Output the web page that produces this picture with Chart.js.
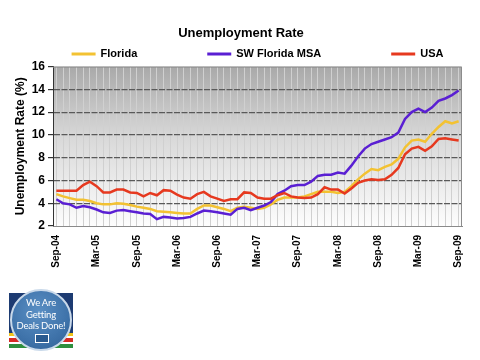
<!DOCTYPE html>
<html>
<head>
<meta charset="utf-8">
<script src="https://cdn.jsdelivr.net/npm/chart.js@4.4.0/dist/chart.umd.min.js"></script>
<style>
  html, body { margin: 0; padding: 0; background: #ffffff; }
  #wrap { position: relative; width: 480px; height: 360px; overflow: hidden; }
  #c { position: absolute; left: 0; top: 0; }
  #logo { position: absolute; left: 9px; top: 293px; width: 64px; height: 55px;
    background: linear-gradient(to bottom, #1d3b72 0px, #1d3b72 40px, #f0c419 40px, #f0c419 43px, #ffffff 43px, #ffffff 45px, #d62a24 45px, #d62a24 49px, #ffffff 49px, #ffffff 51px, #2e8f3e 51px, #2e8f3e 55px); }
  #badge { position: absolute; left: 10px; top: 289px; width: 58px; height: 58px; border-radius: 50%;
    border: 2px solid #c9d9ea;
    background: radial-gradient(circle at 45% 35%, #5a8fc4 0%, #3f73aa 60%, #2f5f95 100%);
    color: #ffffff; font-family: Lato, "Open Sans", sans-serif; font-size: 9.5px; line-height: 11.5px; letter-spacing: -0.2px; text-align: center; }
  #badge .t { position: absolute; left: -4px; right: -4px; top: 6px; white-space: nowrap; }
  #badge .ic { position: absolute; left: 23px; top: 43px; width: 12px; height: 7px; border: 1px solid #ffffff; background: #2a5a8f; }
</style>
</head>
<body>
<div id="wrap">
  <canvas id="c" width="480" height="360"></canvas>
  <div id="logo"></div>
  <div id="badge"><div class="t">We Are<br>Getting<br>Deals Done!</div><div class="ic"></div></div>
</div>
<script>
const categories = [
  'Sep-04','Oct-04','Nov-04','Dec-04',
  'Jan-05','Feb-05','Mar-05','Apr-05','May-05','Jun-05','Jul-05','Aug-05','Sep-05','Oct-05','Nov-05','Dec-05',
  'Jan-06','Feb-06','Mar-06','Apr-06','May-06','Jun-06','Jul-06','Aug-06','Sep-06','Oct-06','Nov-06','Dec-06',
  'Jan-07','Feb-07','Mar-07','Apr-07','May-07','Jun-07','Jul-07','Aug-07','Sep-07','Oct-07','Nov-07','Dec-07',
  'Jan-08','Feb-08','Mar-08','Apr-08','May-08','Jun-08','Jul-08','Aug-08','Sep-08','Oct-08','Nov-08','Dec-08',
  'Jan-09','Feb-09','Mar-09','Apr-09','May-09','Jun-09','Jul-09','Aug-09','Sep-09'
];
const floridaRate = [
  4.8, 4.6, 4.45, 4.3, 4.3, 4.2, 4.0, 3.9, 3.9, 4.0,
  3.95, 3.85, 3.7, 3.6, 3.5, 3.3, 3.25, 3.2, 3.15, 3.1,
  3.1, 3.5, 3.8, 3.8, 3.65, 3.5, 3.3, 3.6, 3.7, 3.6,
  3.5, 3.6, 3.9, 4.3, 4.5, 4.5, 4.5, 4.6, 4.8, 5.0,
  5.0, 5.0, 4.9, 5.0, 5.5, 6.1, 6.6, 7.0, 6.9, 7.2,
  7.4, 7.9, 8.9, 9.5, 9.6, 9.4, 10.1, 10.7, 11.2, 11.0,
  11.2
];
const swFloridaRate = [
  4.35, 4.0, 3.9, 3.6, 3.75, 3.65, 3.45, 3.2, 3.15, 3.35,
  3.4, 3.3, 3.2, 3.1, 3.05, 2.6, 2.8, 2.75, 2.65, 2.7,
  2.8, 3.1, 3.35, 3.3, 3.2, 3.1, 3.0, 3.5, 3.6, 3.4,
  3.6, 3.8, 4.1, 4.8, 5.1, 5.5, 5.6, 5.6, 5.9, 6.4,
  6.5, 6.5, 6.7, 6.6, 7.3, 8.1, 8.8, 9.2, 9.4, 9.6,
  9.8, 10.2, 11.4, 12.0, 12.3, 12.0, 12.4, 13.0, 13.2, 13.5,
  13.9
];
const usaRate = [
  5.1, 5.1, 5.1, 5.1, 5.6, 5.9, 5.5, 4.95, 4.95, 5.2,
  5.2, 4.95, 4.9, 4.6, 4.9, 4.7, 5.15, 5.1, 4.75, 4.5,
  4.4, 4.8, 5.0, 4.6, 4.4, 4.2, 4.35, 4.35, 4.95, 4.9,
  4.5, 4.4, 4.4, 4.7, 4.9, 4.6, 4.5, 4.45, 4.5, 4.8,
  5.4, 5.2, 5.2, 4.85, 5.3, 5.8, 6.0, 6.1, 6.05, 6.1,
  6.5, 7.1, 8.3, 8.8, 8.95, 8.6, 9.0, 9.65, 9.7, 9.6,
  9.5
];
const seriesNames = ['Florida', 'SW Florida MSA', 'USA'];
const seriesColors = ['#F3C232', '#5A1FD3', '#E6391F'];

const FONT = '"Liberation Sans", Arial, sans-serif';

const plotBackground = {
  id: 'plotBackground',
  beforeDraw(chart) {
    const {ctx, chartArea: a} = chart;
    ctx.save();
    const g = ctx.createLinearGradient(0, a.top, 0, a.bottom);
    g.addColorStop(0, '#a9a9a9');
    g.addColorStop(0.45, '#d9d9d9');
    g.addColorStop(1, '#fdfdfd');
    ctx.fillStyle = g;
    ctx.fillRect(a.left, a.top, a.right - a.left, a.bottom - a.top);
    ctx.restore();
  },
  beforeDatasetsDraw(chart) {
    const {ctx, chartArea: a} = chart;
    ctx.save();
    ctx.strokeStyle = '#8c8c8c';
    ctx.lineWidth = 1;
    ctx.beginPath();
    ctx.moveTo(a.left, a.top + 0.5);
    ctx.lineTo(a.right - 0.5, a.top + 0.5);
    ctx.lineTo(a.right - 0.5, a.bottom);
    ctx.stroke();
    ctx.restore();
  }
};

const spreadLegend = {
  id: 'spreadLegend',
  afterDraw(chart) {
    const {ctx, chartArea: a} = chart;
    ctx.save();
    ctx.font = 'bold 11px ' + FONT;
    const box = 24, textGap = 5, gap = 70;
    const items = chart.data.datasets.map(ds => ({
      text: ds.label, color: ds.borderColor,
      w: box + textGap + ctx.measureText(ds.label).width
    }));
    const total = items.reduce((s, it) => s + it.w, 0) + gap * (items.length - 1);
    let x = (a.left + a.right) / 2 - total / 2;
    const y = 54;
    items.forEach(it => {
      ctx.strokeStyle = it.color;
      ctx.lineWidth = 3;
      ctx.beginPath();
      ctx.moveTo(x, y);
      ctx.lineTo(x + box, y);
      ctx.stroke();
      ctx.fillStyle = '#000000';
      ctx.textAlign = 'left';
      ctx.textBaseline = 'middle';
      ctx.fillText(it.text, x + box + textGap, y);
      x += it.w + gap;
    });
    ctx.restore();
  }
};

const seriesData = [floridaRate, swFloridaRate, usaRate];
const drawOrder = [2, 1, 0];

new Chart(document.getElementById('c'), {
  type: 'line',
  data: {
    labels: categories,
    datasets: seriesData.map((d, i) => ({
      label: seriesNames[i],
      data: d,
      borderColor: seriesColors[i],
      backgroundColor: seriesColors[i],
      borderWidth: 2.5,
      pointRadius: 0,
      tension: 0,
      order: drawOrder[i]
    }))
  },
  options: {
    responsive: false,
    animation: false,
    events: [],
    layout: { padding: { left: 10, right: 8, top: 18, bottom: 92 } },
    plugins: {
      legend: { display: false },
      tooltip: { enabled: false },
      title: {
        display: true,
        text: 'Unemployment Rate',
        color: '#000000',
        font: { family: FONT, size: 13, weight: 'bold' },
        padding: { top: 8, bottom: 25 }
      }
    },
    scales: {
      x: {
        offset: true,
        grid: { color: '#d0d0d0', lineWidth: 1, drawTicks: false },
        border: { color: '#8a8a8a', width: 1 },
        ticks: {
          autoSkip: false,
          maxRotation: 90,
          minRotation: 90,
          padding: 9,
          color: '#000000',
          font: { family: FONT, size: 10, weight: 'bold' },
          callback(value, index) { return index % 6 === 0 ? this.getLabelForValue(value) : ''; }
        },
        afterFit(s) { s.height = 42; }
      },
      y: {
        min: 2,
        max: 16,
        ticks: {
          stepSize: 2,
          padding: 3,
          color: '#000000',
          font: { family: FONT, size: 12, weight: 'bold' }
        },
        grid: {
          color: (c) => (c.tick && (c.tick.value === 2 || c.tick.value === 16)) ? 'rgba(0,0,0,0)' : '#595959',
          lineWidth: 1.2,
          tickLength: 5,
          tickColor: '#333333',
          tickBorderDash: []
        },
        border: { color: '#333333', width: 1, dash: [6, 1.5] },
        title: {
          display: true,
          text: 'Unemployment Rate (%)',
          color: '#000000',
          font: { family: FONT, size: 12, weight: 'bold' },
          padding: { top: 3, bottom: 2 }
        },
        afterFit(s) { s.width = 43; }
      },
      y2: {
        type: 'linear',
        position: 'right',
        display: true,
        grid: { display: false, drawTicks: false },
        border: { display: false },
        ticks: { display: false },
        afterFit(s) { s.width = 10; }
      }
    }
  },
  plugins: [plotBackground, spreadLegend]
});
</script>
</body>
</html>
